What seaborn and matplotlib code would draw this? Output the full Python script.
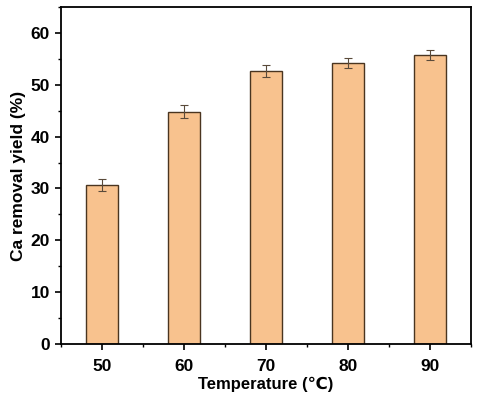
import matplotlib
matplotlib.use("Agg")
import matplotlib.pyplot as plt
import seaborn as sns
import pandas as pd
import numpy as np
from matplotlib.ticker import MultipleLocator

temps = ["50", "60", "70", "80", "90"]
yields = [30.7, 44.8, 52.6, 54.2, 55.7]
errors = [1.15, 1.3, 1.15, 0.95, 1.0]

sns.set_theme(style="ticks")
plt.rcParams['font.family'] = ['Liberation Sans', 'DejaVu Sans']
plt.rcParams['font.weight'] = 'bold'

df = pd.DataFrame({"Temperature": temps, "Yield": yields})

fig = plt.figure(figsize=(4.78, 3.99), dpi=100)
ax = fig.add_axes([0.1276, 0.1378, 0.8578, 0.8447])

sns.barplot(data=df, x="Temperature", y="Yield", color="#F8C28E", width=0.4,
            edgecolor="#4a3520", linewidth=1.0, saturation=1, ax=ax)
ax.errorbar(np.arange(len(temps)), yields, yerr=errors, fmt="none",
            ecolor="#5a4a3a", elinewidth=0.8, capsize=3, capthick=0.8)

ax.set_xlim(-0.5, 4.5)
ax.set_ylim(0, 65)
ax.yaxis.set_major_locator(MultipleLocator(10))
ax.yaxis.set_minor_locator(MultipleLocator(5))
ax.set_xticks(np.arange(len(temps)))
ax.set_xticks(np.arange(-0.5, 5, 1), minor=True)
ax.set_xticklabels(temps)

for s in ax.spines.values():
    s.set_visible(True)
    s.set_color("black")
    s.set_linewidth(1.3)

ax.tick_params(axis="both", which="major", direction="out", length=4.5, width=1.2,
               labelsize=12.5, color="black", labelcolor="black")
ax.tick_params(axis="x", which="major", pad=6)
ax.tick_params(axis="both", which="minor", direction="out", length=2.5, width=1.0, color="black")
for lab in ax.get_xticklabels() + ax.get_yticklabels():
    lab.set_fontweight("bold")

ax.set_xlabel("Temperature (℃)", fontsize=12, fontweight="bold", color="black", labelpad=2)
ax.set_ylabel("Ca removal yield (%)", fontsize=12.5, fontweight="bold", color="black", labelpad=3)

fig.savefig("out.png", dpi=100)
